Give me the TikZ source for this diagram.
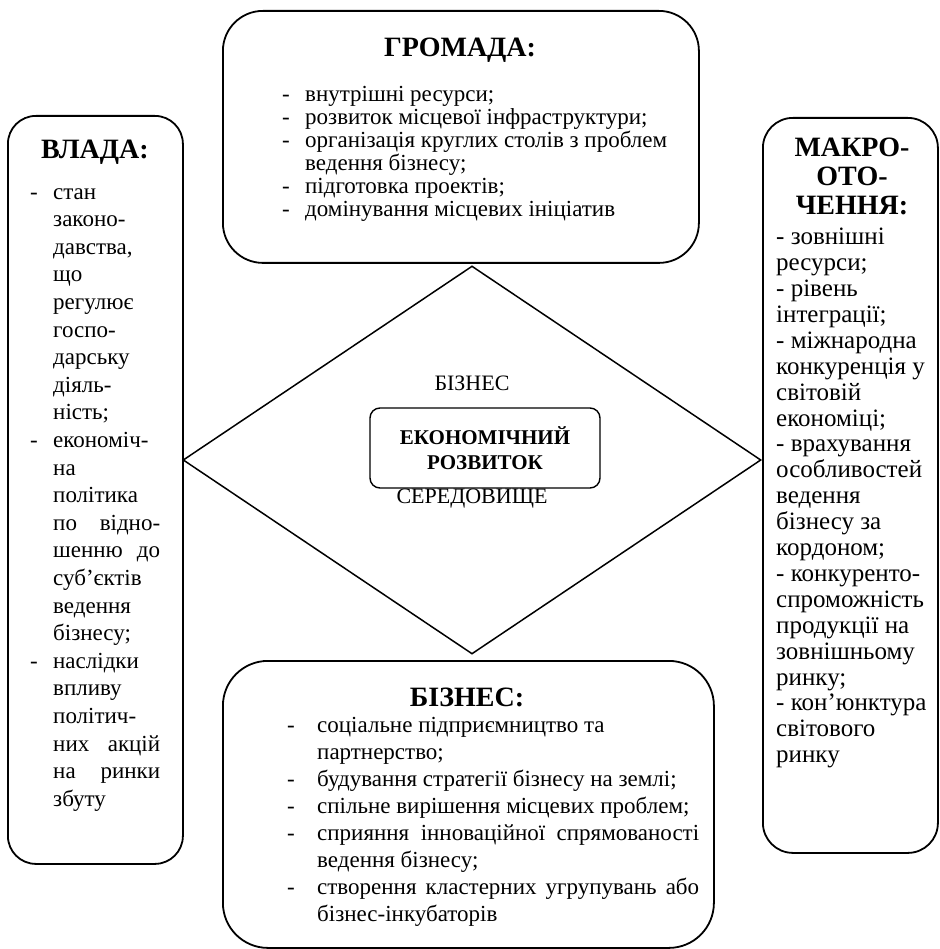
\documentclass[tikz,border=0pt]{standalone}
\usepackage{fontspec}
\setmainfont{Liberation Serif}
\usetikzlibrary{shapes.geometric}
\newcommand{\bl}[1]{\makebox[23pt][l]{-}#1}
\newcommand{\ct}[1]{\hspace*{23pt}#1}
\newcommand{\blb}[1]{\makebox[30pt][l]{-}#1}
\newcommand{\ctb}[1]{\hspace*{30pt}#1}
\newcommand{\fsz}[2]{\fontsize{#1}{#2}\selectfont\lineskiplimit=-100pt\relax}
\begin{document}
\begin{tikzpicture}[x=1pt,y=-1pt,
  frame/.style={draw, line width=1.8pt, rounded corners=#1, anchor=north west, inner sep=0pt},
  frame/.default=30pt,
  title/.style={font=\fsz{28}{30}\bfseries, inner sep=0pt, align=center},
  body/.style={anchor=north west, inner sep=0pt, align=left}]
\useasboundingbox (0,0) rectangle (939,949);

% boxes
\node[frame=40pt, minimum width=476pt, minimum height=252pt] (gromada) at (222,10) {};
\node[frame=28pt, minimum width=175pt, minimum height=748pt] (vlada) at (7,115) {};
\node[frame=30pt, minimum width=175pt, minimum height=735pt] (makro) at (762,117) {};
\node[frame=45pt, minimum width=491pt, minimum height=287pt] (biznes) at (222,660) {};

% diamond
\node[draw, diamond, line width=1.5pt, minimum width=578pt, minimum height=388pt, inner sep=0pt] (dia) at (472,460) {};

% centre
\node[draw, rounded corners=10pt, line width=1.4pt, minimum width=230pt, minimum height=80pt, inner sep=0pt,
      align=center, font=\fsz{21}{25}\bfseries] (econ) at (485,448) {ЕКОНОМІЧНИЙ\\РОЗВИТОК};
\node[inner sep=0pt, font=\fsz{22}{26}] (lbA) at (472,383) {БІЗНЕС};
\node[inner sep=0pt, font=\fsz{22}{26}] (lbB) at (472,499) {СЕРЕДОВИЩЕ};

% top box text
\node[title] (tG) at (460,50) {ГРОМАДА:};
\node[body, font=\fsz{23}{23}] (bG) at (282,86) {%
\bl{внутрішні ресурси;}\\
\bl{розвиток місцевої інфраструктури;}\\
\bl{організація круглих столів з проблем}\\
\ct{ведення бізнесу;}\\
\bl{підготовка проектів;}\\
\bl{домінування місцевих ініціатив}};

% left box text
\node[title] (tV) at (95,152) {ВЛАДА:};
\node[body, font=\fsz{23}{27.6}] (bV) at (30,188) {%
\bl{стан}\\
\ct{законо-}\\
\ct{давства,}\\
\ct{що}\\
\ct{регулює}\\
\ct{госпо-}\\
\ct{дарську}\\
\ct{діяль-}\\
\ct{ність;}\\
\bl{економіч-}\\
\ct{на}\\
\ct{політика}\\
\ct{\makebox[107pt][s]{по відно-}}\\
\ct{\makebox[107pt][s]{шенню до}}\\
\ct{суб’єктів}\\
\ct{ведення}\\
\ct{бізнесу;}\\
\bl{наслідки}\\
\ct{впливу}\\
\ct{політич-}\\
\ct{\makebox[107pt][s]{них акцій}}\\
\ct{\makebox[107pt][s]{на ринки}}\\
\ct{збуту}};

% right box text
\node[title, font=\fsz{28}{29}\bfseries] (tM) at (852,176) {МАКРО-\\ОТО-\\ЧЕННЯ:};
\node[body, font=\fsz{25}{25.9}] (bM) at (776,228) {%
- зовнішні\\
ресурси;\\
- рівень\\
інтеграції;\\
- міжнародна\\
конкуренція у\\
світовій\\
економіці;\\
- врахування\\
особливостей\\
ведення\\
бізнесу за\\
кордоном;\\
- конкуренто-\\
спроможність\\
продукції на\\
зовнішньому\\
ринку;\\
- кон’юнктура\\
світового\\
ринку};

% bottom box text
\node[title] (tB) at (467,697) {БІЗНЕС:};
\node[body, font=\fsz{23}{27}] (bB) at (287,717) {%
\blb{соціальне підприємництво та}\\
\ctb{партнерство;}\\
\blb{будування стратегії бізнесу на землі;}\\
\blb{спільне вирішення місцевих проблем;}\\
\blb{\makebox[382pt][s]{сприяння інноваційної спрямованості}}\\
\ctb{ведення бізнесу;}\\
\blb{\makebox[382pt][s]{створення кластерних угрупувань або}}\\
\ctb{бізнес-інкубаторів}};
\end{tikzpicture}
\end{document}
